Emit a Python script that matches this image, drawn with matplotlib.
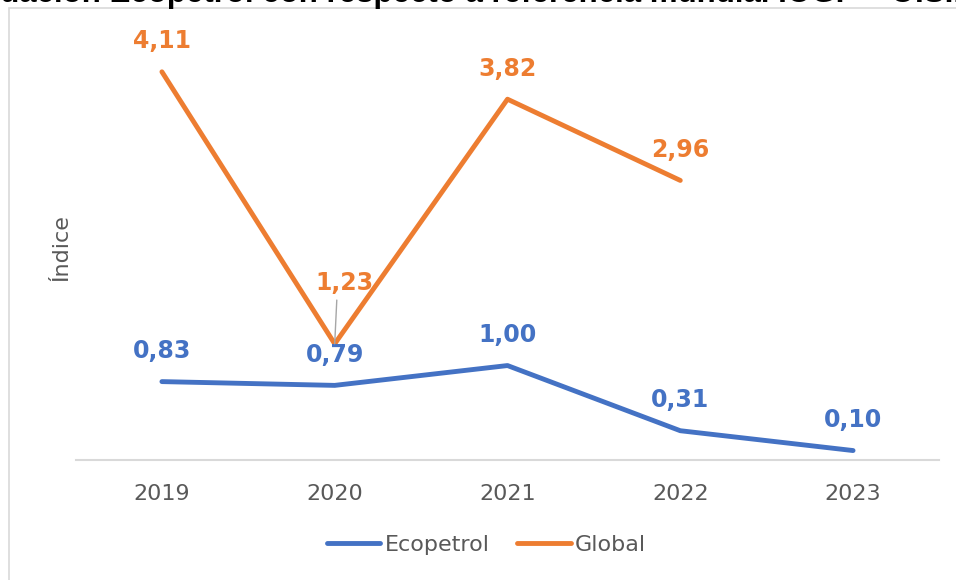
import numpy as np
import matplotlib.pyplot as plt
from matplotlib.patches import Rectangle

years = ['2019', '2020', '2021', '2022', '2023']
ecopetrol = [0.83, 0.79, 1.00, 0.31, 0.10]
global_ref = [4.11, 1.23, 3.82, 2.96, np.nan]

blue = '#4472C4'
orange = '#ED7D31'
gray = '#595959'

fig = plt.figure(figsize=(9.56, 5.8), dpi=100)
ax = fig.add_axes([0.079, 0.2069, 0.9037, 0.7328])

# marco del grafico y titulo recortado arriba
fig.patches.append(Rectangle((9 / 956, -0.05), 1.0, 1 - 8 / 580 + 0.05,
                             transform=fig.transFigure, fill=False,
                             edgecolor='#D9D9D9', lw=1.2))
fig.text(-64 / 956, 1 - 2 / 580,
         'Evaluación Ecopetrol con respecto a referencia mundial IOGP – O.S.H.A.',
         ha='left', va='baseline', fontsize=22.5, fontweight='bold',
         family='Liberation Sans', color='black')

x = np.arange(len(years))
ax.plot(x, ecopetrol, color=blue, lw=3.5, solid_capstyle='round', label='Ecopetrol')
ax.plot(x, global_ref, color=orange, lw=3.5, solid_capstyle='round', label='Global')

def fmt(v):
    return f'{v:.2f}'.replace('.', ',')

for i, v in enumerate(ecopetrol):
    ax.annotate(fmt(v), (x[i], v), xytext=(0, 22), textcoords='offset points',
                ha='center', va='center', fontsize=17, fontweight='bold', color=blue)

for i, v in enumerate(global_ref):
    if np.isnan(v):
        continue
    if i == 1:
        ax.annotate('', (x[i], v), xytext=(1.5, 31.5), textcoords='offset points',
                    arrowprops=dict(arrowstyle='-', color='#A6A6A6', lw=1,
                                    shrinkA=0, shrinkB=0))
        ax.annotate(fmt(v), (x[i], v), xytext=(7, 44), textcoords='offset points',
                    ha='center', va='center', fontsize=17, fontweight='bold', color=orange)
    else:
        ax.annotate(fmt(v), (x[i], v), xytext=(0, 22), textcoords='offset points',
                    ha='center', va='center', fontsize=17, fontweight='bold', color=orange)

ax.set_xlim(-0.5, len(years) - 0.5)
ax.set_ylim(0, 4.5)
ax.set_xticks(x)
ax.set_xticklabels(years)
ax.tick_params(axis='x', length=0, pad=17, labelsize=16, labelcolor=gray)
ax.tick_params(axis='y', left=False, labelleft=False)
for s in ['top', 'right', 'left']:
    ax.spines[s].set_visible(False)
ax.spines['bottom'].set_color('#D9D9D9')
ax.spines['bottom'].set_linewidth(1.5)
ax.set_ylabel('Índice', fontsize=16, color=gray, labelpad=3)

fig.legend(loc='center', bbox_to_anchor=(0.509, 0.06), ncol=2, frameon=False,
           fontsize=16, handlelength=2.4, handletextpad=0.2, columnspacing=1.25,
           labelcolor=gray)

fig.savefig('out.png', dpi=100)
